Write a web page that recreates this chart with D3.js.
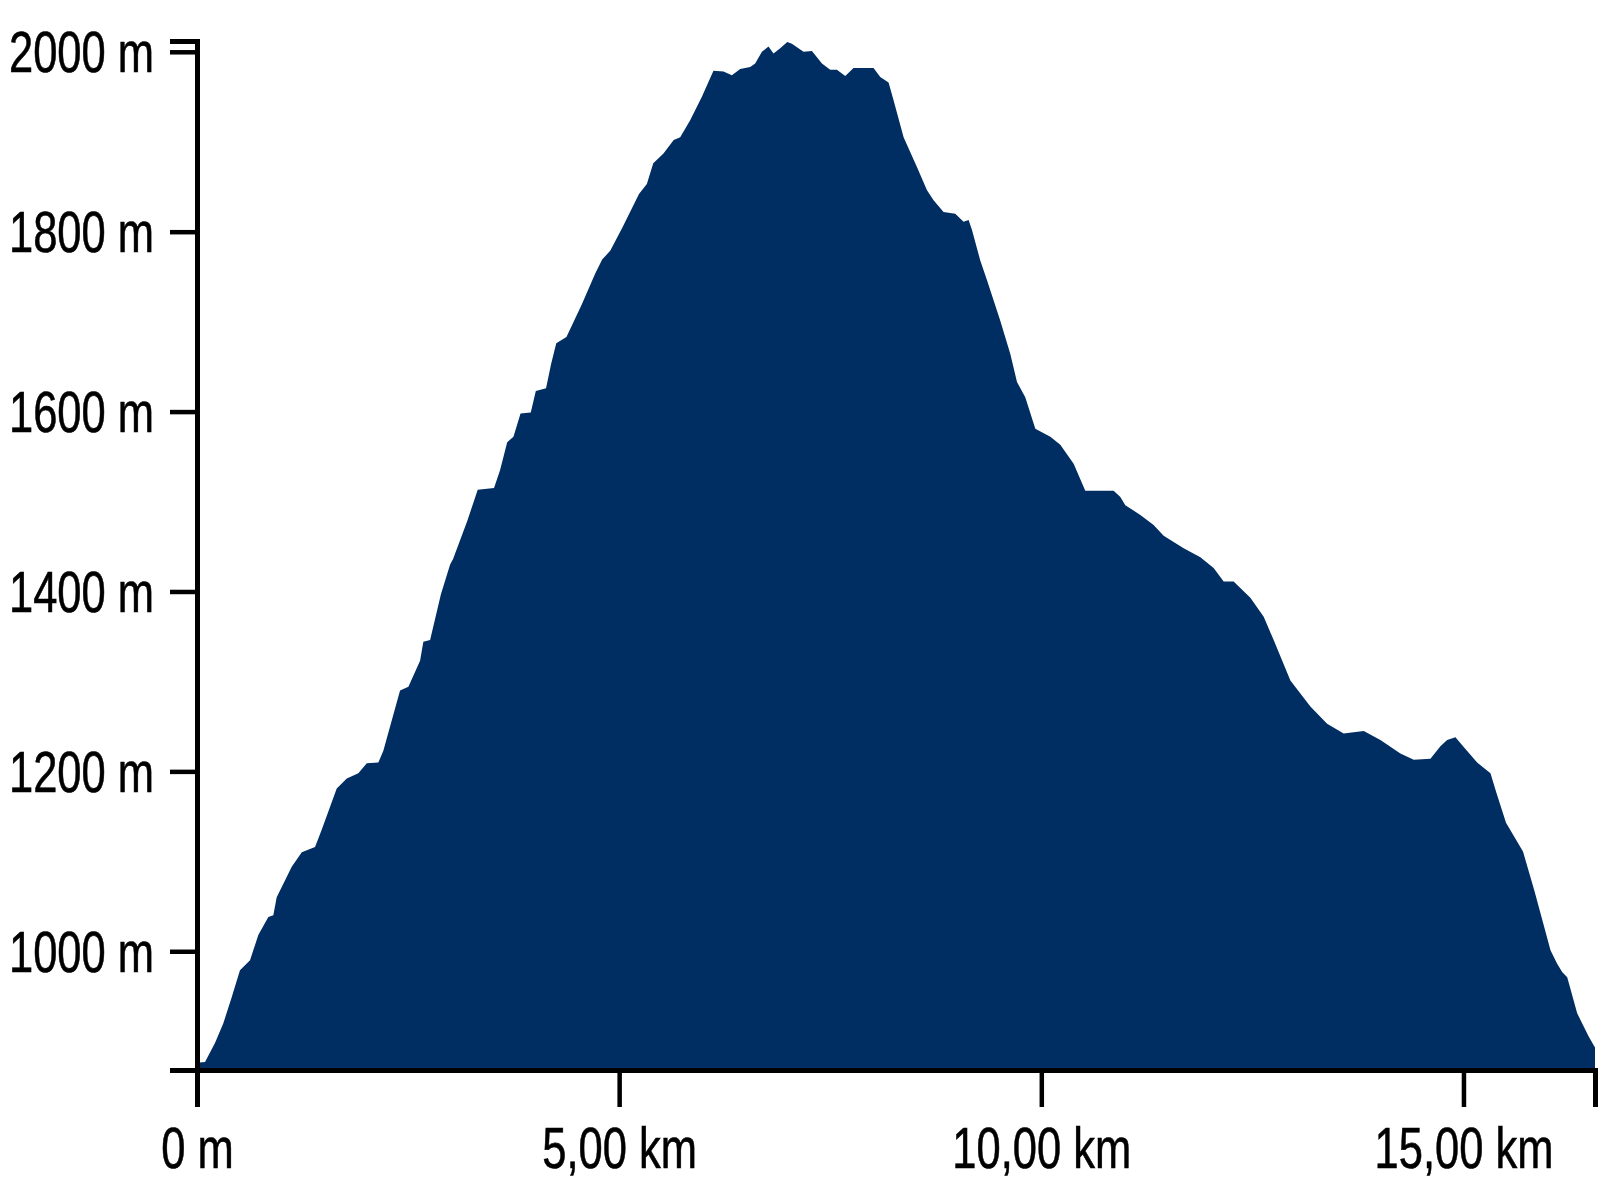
<!DOCTYPE html>
<html>
<head>
<meta charset="utf-8">
<script src="https://cdn.jsdelivr.net/npm/d3@7"></script>
<style>
html,body{margin:0;padding:0;background:#fff;}
svg{display:block;}
</style>
</head>
<body>
<svg id="chart" width="1600" height="1180"></svg>
<script>
// Distance along the route (km)
const distanceKm = [
  0.000, 0.095, 0.213, 0.312, 0.411, 0.509, 0.628, 0.726, 0.845, 0.904,
  0.944, 1.122, 1.241, 1.398, 1.477, 1.655, 1.774, 1.911, 2.011, 2.148,
  2.207, 2.405, 2.504, 2.642, 2.681, 2.761, 2.889, 2.998, 3.033, 3.203,
  3.325, 3.518, 3.590, 3.674, 3.748, 3.832, 3.953, 4.013, 4.134, 4.194,
  4.255, 4.376, 4.557, 4.714, 4.799, 4.896, 5.040, 5.235, 5.328, 5.404,
  5.525, 5.646, 5.723, 5.841, 5.980, 6.117, 6.236, 6.335, 6.434, 6.552,
  6.611, 6.691, 6.769, 6.828, 6.908, 6.991, 7.046, 7.184, 7.283, 7.402,
  7.500, 7.579, 7.678, 7.776, 8.013, 8.092, 8.191, 8.250, 8.369, 8.527,
  8.646, 8.724, 8.842, 8.981, 9.079, 9.139, 9.179, 9.277, 9.357, 9.514,
  9.633, 9.712, 9.810, 9.929, 10.107, 10.225, 10.383, 10.521, 10.857, 10.936,
  10.995, 11.173, 11.330, 11.449, 11.686, 11.884, 12.041, 12.160, 12.278, 12.476,
  12.634, 12.752, 12.950, 13.187, 13.385, 13.581, 13.819, 14.016, 14.253, 14.411,
  14.609, 14.727, 14.807, 14.905, 15.003, 15.162, 15.320, 15.391, 15.504, 15.705,
  15.841, 16.031, 16.110, 16.169, 16.229, 16.347, 16.485, 16.558
];
// Elevation (m)
const elevationM = [
  876, 877, 898, 920, 949, 979, 990, 1018, 1038, 1040,
  1060, 1094, 1110, 1116, 1135, 1181, 1192, 1198, 1209, 1210,
  1223, 1290, 1294, 1323, 1344, 1346, 1397, 1430, 1436, 1479,
  1513, 1515, 1535, 1566, 1572, 1598, 1599, 1623, 1626, 1653,
  1676, 1683, 1719, 1753, 1769, 1779, 1805, 1842, 1853, 1876,
  1887, 1902, 1905, 1924, 1950, 1979, 1978, 1974, 1981, 1983,
  1987, 2000, 2006, 1998, 2004, 2011, 2009, 2000, 2001, 1987,
  1980, 1980, 1973, 1982, 1982, 1972, 1966, 1946, 1905, 1872,
  1846, 1835, 1822, 1820, 1811, 1813, 1802, 1768, 1746, 1701,
  1664, 1633, 1616, 1581, 1572, 1563, 1542, 1512, 1512, 1505,
  1496, 1485, 1474, 1462, 1448, 1438, 1426, 1411, 1411, 1393,
  1372, 1346, 1301, 1272, 1253, 1242, 1245, 1235, 1220, 1213,
  1214, 1228, 1235, 1238, 1227, 1210, 1198, 1176, 1143, 1111,
  1067, 1001, 986, 977, 971, 931, 905, 893
];
const yTickValues = [1000, 1200, 1400, 1600, 1800, 2000];
const xTickValues = [0, 5, 10, 15];
const yDomain = [868, 2012];

const svg = d3.select("#chart");
const plotLeft = 197, plotRight = 1595, plotTop = 41, plotBottom = 1070;
const fontFamily = "'Liberation Sans', Arial, Helvetica, sans-serif";
const squeeze = 0.75;

const data = distanceKm.map((d, i) => [d, elevationM[i]]);

const x = d3.scaleLinear().domain([0, d3.max(distanceKm)]).range([plotLeft, plotRight]);
const y = d3.scaleLinear().domain(yDomain).range([plotBottom, plotTop]);

const area = d3.area()
  .x(d => x(d[0]))
  .y0(y(yDomain[0]))
  .y1(d => y(d[1]));

svg.append("path")
  .datum(data)
  .attr("fill", "#002e62")
  .attr("d", area);

// Y axis
const yAxis = svg.append("g")
  .attr("transform", `translate(${plotLeft},0)`)
  .call(d3.axisLeft(y).tickValues(yTickValues).tickSize(27).tickFormat(d => d + " m"));

// X axis
const xAxis = svg.append("g")
  .attr("transform", `translate(0,${plotBottom})`)
  .call(d3.axisBottom(x).tickValues(xTickValues).tickSize(37)
    .tickFormat(d => d === 0 ? "0 m" : d.toFixed(2).replace(".", ",") + " km"));

[yAxis, xAxis].forEach(g => {
  g.select(".domain").attr("stroke", "#000").attr("stroke-width", 5);
  g.selectAll(".tick line").attr("stroke", "#000").attr("stroke-width", 4.5);
  g.selectAll("text")
    .attr("fill", "#000")
    .attr("stroke", "#000")
    .attr("stroke-width", 0.6)
    .style("font-family", fontFamily)
    .style("font-size", "58px");
});

yAxis.selectAll(".tick text")
  .attr("x", -43 / squeeze)
  .attr("dy", null)
  .attr("y", 20)
  .attr("text-anchor", "end")
  .attr("transform", `scale(${squeeze},1)`);

xAxis.selectAll(".tick text")
  .attr("x", 0)
  .attr("dy", null)
  .attr("y", 98)
  .attr("text-anchor", "middle")
  .attr("transform", `scale(${squeeze},1)`);
</script>
</body>
</html>
